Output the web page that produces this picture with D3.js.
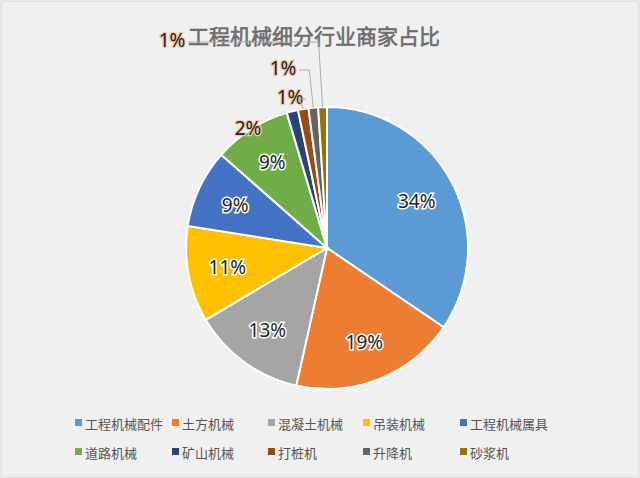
<!DOCTYPE html>
<html><head><meta charset="utf-8">
<script src="https://cdn.jsdelivr.net/npm/d3@7"></script>
<style>
body{margin:0;background:#fff;font-family:"Noto Sans CJK SC","Noto Sans",sans-serif;}
svg{display:block;}
</style></head>
<body><svg id="chart" width="640" height="478"></svg>
<script>
// Chart data
var categories = ['工程机械配件','土方机械','混凝土机械','吊装机械','工程机械属具','道路机械','矿山机械','打桩机','升降机','砂浆机'];
var values = [34.5, 19, 13, 11, 9, 8.9, 1.3, 1.2, 1.1, 1.0];
var pctLabels = ['34%','19%','13%','11%','9%','9%','2%','1%','1%','1%'];
var colors = ['#5B9BD5','#ED7D31','#A5A5A5','#FFC000','#4472C4','#70AD47','#264478','#9E480E','#636363','#997300'];

// outside label spots for the thin slices
var outerLabels = [null,null,null,null,null,null,[248,128],[290,97],[283,68],[172,40]];

var svg = d3.select('#chart');
svg.append('rect').attr('x',1).attr('y',1).attr('width',638).attr('height',476)
  .attr('fill','#f0f0f0').attr('stroke','#d0d0d0');

svg.append('text').attr('x',314).attr('y',44).attr('text-anchor','middle')
  .attr('font-size',21).attr('fill','#777').attr('stroke','#555').attr('stroke-width',0.5)
  .text('工程机械细分行业商家占比');

var cx = 327, cy = 248, r = 141;
var pie = d3.pie().sort(null).value(function(d){ return d; });
var arc = d3.arc().innerRadius(0).outerRadius(r);
var arcs = pie(values);
var g = svg.append('g').attr('transform','translate('+cx+','+cy+')');

g.selectAll('path').data(arcs).enter().append('path')
  .attr('d', arc).attr('fill', function(d,i){ return colors[i]; })
  .attr('stroke','#fff').attr('stroke-width',2);

function label(sel){
  sel.attr('text-anchor','middle').attr('dominant-baseline','central')
    .attr('font-family','"Noto Sans","DejaVu Sans",sans-serif')
    .attr('font-size',19).attr('fill','#222')
    .attr('stroke','#fff').attr('stroke-width',3).attr('paint-order','stroke');
}

var inner = d3.arc().innerRadius(r*0.72).outerRadius(r*0.72);
arcs.forEach(function(a,i){
  if (!outerLabels[i]) {
    var c = inner.centroid(a);
    g.append('text').attr('x',c[0]).attr('y',c[1]).call(label).text(pctLabels[i]);
  } else {
    var mid = (a.startAngle + a.endAngle)/2;
    var px = Math.sin(mid)*r, py = -Math.cos(mid)*r;
    var lx = outerLabels[i][0]-cx, ly = outerLabels[i][1]-cy;
    if (i > 6) {
      svg.append('polyline')
        .attr('points', [[cx+px,cy+py],[cx+px-4,cy+ly+2],[cx+lx+16,cy+ly+2]].join(' '))
        .attr('fill','none').attr('stroke','#aaa').attr('stroke-width',1);
    }
    g.append('text').attr('x',lx).attr('y',ly).call(label)
      .attr('stroke','#f3c9a8').attr('stroke-width',2.5).text(pctLabels[i]);
  }
});

// legend
var legX = [75,172,268,363,460], legY = [423,452];
categories.forEach(function(name,i){
  var x = legX[i%5], y = legY[Math.floor(i/5)];
  svg.append('rect').attr('x',x).attr('y',y-4).attr('width',7).attr('height',7).attr('fill',colors[i]);
  svg.append('text').attr('x',x+10).attr('y',y).attr('dominant-baseline','central')
    .attr('font-size',13).attr('fill','#555').text(name);
});
</script></body></html>
